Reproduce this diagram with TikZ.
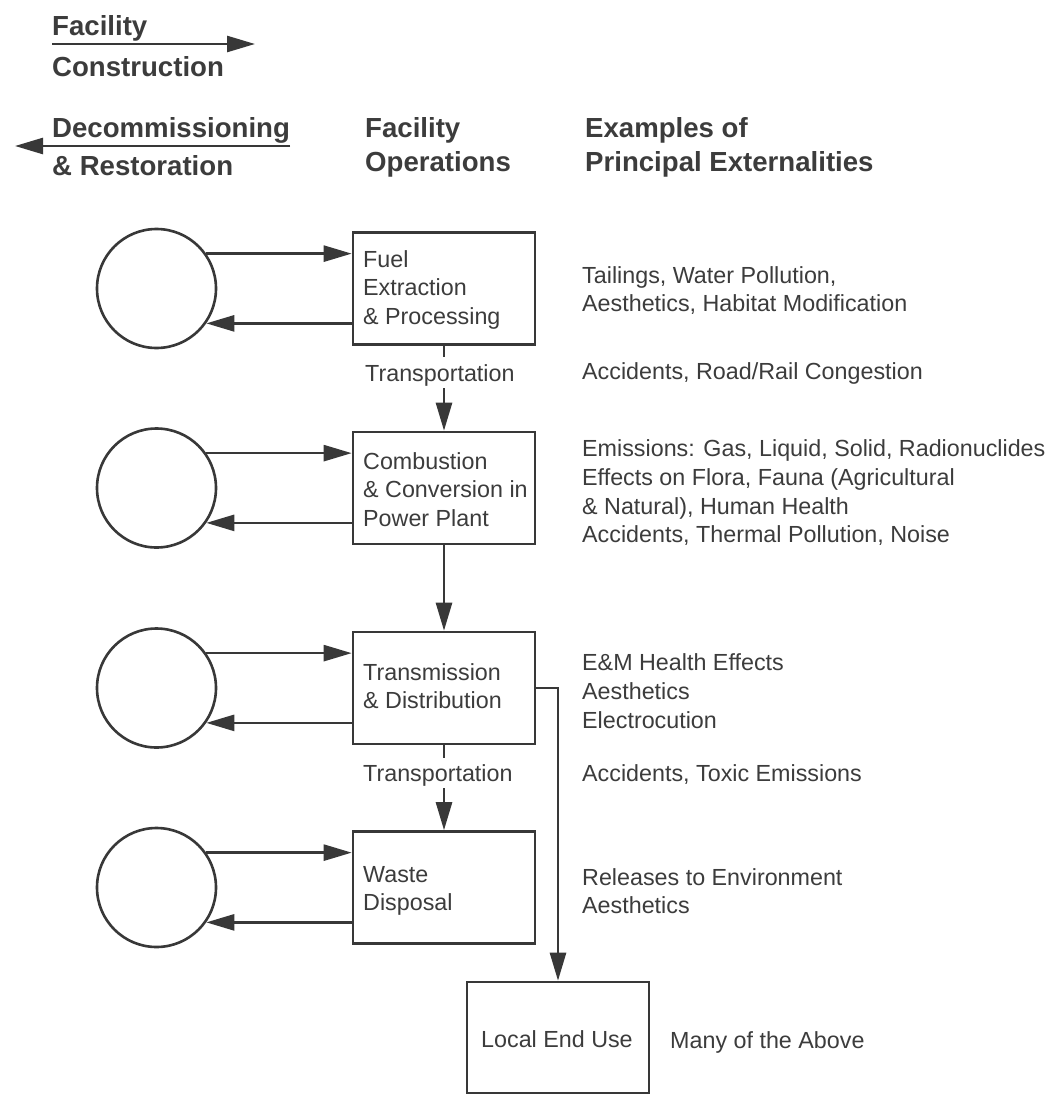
\documentclass[tikz,border=0pt]{standalone}
\usepackage{fontspec}
\setmainfont{Liberation Sans}
\usetikzlibrary{arrows.meta}
\definecolor{ink}{HTML}{383838}
\definecolor{txt}{HTML}{3C3C3C}
\begin{document}
\begin{tikzpicture}[x=1pt,y=-1pt,
  line/.style={draw=ink, line width=2.6pt},
  arr/.style={line, -{Triangle[length=28pt,width=16pt]}},
  stage/.style={draw=ink, line width=2.6pt, minimum width=182pt, minimum height=112pt, inner sep=0pt},
  src/.style={circle, draw=ink, line width=2.6pt, minimum size=119pt, inner sep=0pt},
  % multi-line texts are anchored on the baseline of their last line
  body/.style={text=txt, inner sep=0pt, align=left, anchor=base west, font=\fontsize{23.3}{28.8}\selectfont},
  head/.style={text=txt, inner sep=0pt, align=left, anchor=base west, font=\fontsize{27.6}{34}\selectfont\bfseries},
]
\fill[white] (0,0) rectangle (1057,1095);
\useasboundingbox (0,0) rectangle (1057,1095);

% legend: construction and decommissioning directions
\node[head] (h1) at (52,35) {Facility};
\node[head] (h2) at (52,76) {Construction};
\coordinate (fwdL) at (52,44);
\coordinate (fwdR) at (255,44);
\draw[arr] (fwdL) -- (fwdR);
\node[head] (h3) at (52,137) {Decommissioning};
\node[head] (h4) at (52,175) {\& Restoration};
\coordinate (bwdR) at (290,146);
\coordinate (bwdL) at (15,146);
\draw[arr] (bwdR) -- (bwdL);

% column headings
\node[head] (h5) at (365,171) {Facility\\Operations};
\node[head] (h6) at (585,171) {Examples of\\Principal Externalities};

% fuel-cycle stages
\node[stage] (b1) at (444,288.5) {};
\node[stage] (b2) at (444,488) {};
\node[stage] (b3) at (444,688) {};
\node[stage] (b4) at (444,887.5) {};
\node[stage, minimum height=111pt] (b5) at (558,1037.5) {};

\node[body] (b1t) at (363,324.6) {Fuel\\Extraction\\\& Processing};
\node[body] (b2t) at (363,526.6) {Combustion\\\& Conversion in\\Power Plant};
\node[body] (b3t) at (363,708.8) {Transmission\\\& Distribution};
\node[body] (b4t) at (363,910.8) {Waste\\Disposal};
\node[body] (b5t) at (481,1047) {Local End Use};

% construction / decommissioning of each facility
\foreach \i/\y in {1/288.5, 2/488, 3/688, 4/887.5} {
  \node[src] (c\i) at (156.5,\y) {};
  \draw[arr] (c\i.35) -- (c\i.35 -| b\i.west);
  \draw[arr] (c\i.-35 -| b\i.west) -- (c\i.-35);
}

% flow between stages
\node[body] (tr1) at (365,381) {Transportation};
\node[body] (tr2) at (363,781) {Transportation};
\draw[line] (b1.south) -- ([yshift=7pt]b1.south |- tr1.north);
\draw[arr] ([yshift=-2pt]b1.south |- tr1.south) -- (b2.north);
\draw[arr] (b2.south) -- (b3.north);
\draw[line] (b3.south) -- ([yshift=6pt]b3.south |- tr2.north);
\draw[arr] ([yshift=-2pt]b3.south |- tr2.south) -- (b4.north);
\draw[arr] (b3.east) -| (b5.north);

% externalities
\node[body] (e1) at (582,311.8) {Tailings, Water Pollution,\\Aesthetics, Habitat Modification};
\node[body] (e2) at (582,379.5) {Accidents, Road/Rail Congestion};
\node[body] (e3) at (582,542.9) {Emissions: Gas, Liquid, Solid, Radionuclides\\Effects on Flora, Fauna (Agricultural\\\& Natural), Human Health\\Accidents, Thermal Pollution, Noise};
\node[body] (e4) at (582,728.1) {E\&M Health Effects\\Aesthetics\\Electrocution};
\node[body] (e5) at (582,781.5) {Accidents, Toxic Emissions};
\node[body] (e6) at (582,913.8) {Releases to Environment\\Aesthetics};
\node[body] (e7) at (670,1048) {Many of the Above};
\end{tikzpicture}
\end{document}
